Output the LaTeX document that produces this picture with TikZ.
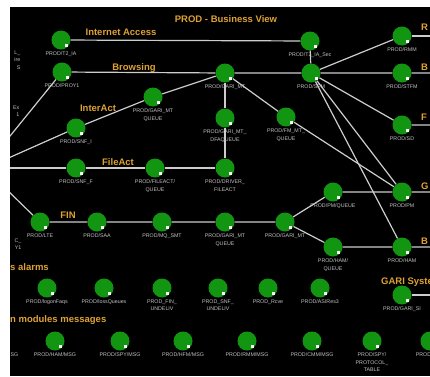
\documentclass[tikz,border=0pt]{standalone}
\usepackage{fontspec}
\setmainfont{Liberation Sans}
\definecolor{ndgreen}{RGB}{18,150,18}
\definecolor{grporange}{RGB}{222,162,52}
\definecolor{lblgray}{RGB}{195,195,195}
\definecolor{linegray}{RGB}{205,205,205}
\tikzset{
  nd/.style={circle, fill=ndgreen, minimum size=19pt, inner sep=0pt},
  lbl/.style={font=\fontsize{5.3}{7.5}\selectfont, text=lblgray, align=center, inner sep=0.5pt},
  edgelbl/.style={font=\fontsize{5.3}{7.5}\selectfont, text=lblgray, align=right, inner sep=0.5pt},
  grp/.style={font=\bfseries\fontsize{9.5}{11}\selectfont, text=grporange, inner sep=0pt},
  conn/.style={draw=linegray, line width=1.2pt}
}
\newcommand{\pnd}[4]{%
  \node[nd] (#1) at (#2,#3) {};
  \fill[white] ([xshift=4pt,yshift=-4pt]#1.center) rectangle +(3,3);
  \node[lbl,anchor=north] at ([yshift=-11pt]#1.center) {#4};
}
\begin{document}
\begin{tikzpicture}[x=1pt,y=-1pt]
\useasboundingbox (0,0) rectangle (430,376);
\fill[white] (0,0) rectangle (430,376);
\fill[black] (10,7) rectangle (430,376);
\begin{scope}
\clip (10,7) rectangle (430,376);
% title and group labels
\node[grp] (title) at (226,19) {PROD - Business View};
\node[grp] (gIA) at (121,32) {Internet Access};
\node[grp] (gBr) at (134,68) {Browsing};
\node[grp] (gIn) at (98,108) {InterAct};
\node[grp] (gFa) at (118,162) {FileAct};
\node[grp] (gFin) at (68,215) {FIN};
\node[grp,anchor=west] (gAl) at (10,267) {s alarms};
\node[grp,anchor=west] (gMm) at (10,320) {n modules messages};
\node[grp,anchor=west] (gGs) at (381,282) {GARI Syste};
\node[grp,anchor=west] (rR) at (421,27) {R};
\node[grp,anchor=west] (rB1) at (421,67) {B};
\node[grp,anchor=west] (rF) at (421,117) {F};
\node[grp,anchor=west] (rG) at (421,186) {G};
\node[grp,anchor=west] (rB2) at (421,241) {B};
% partial labels at the left edge
\node[edgelbl,anchor=north east] (lA) at (21,50) {L\_\\ire\\S};
\node[edgelbl,anchor=north east] (lB) at (20,105) {Ex\\1};
\node[edgelbl,anchor=north east] (lC) at (22,238) {C\_\\Y1};
\node[edgelbl,anchor=north east] (lD) at (19,352) {SG};
% nodes
\pnd{t2ia}{61}{40}{PROD/T2\_IA}
\pnd{t2sec}{310}{41}{PROD/T2\_IA\_Sec}
\pnd{rmm}{402}{36}{PROD/RMM}
\pnd{proy}{62}{72}{PROD/PROY1}
\pnd{garimt}{225}{73}{PROD/GARI\_MT}
\pnd{sfm}{311}{73}{PROD/SFM}
\pnd{stfm}{402}{73}{PROD/STFM}
\pnd{gmq}{153}{97}{PROD/GARI\_MT\\QUEUE}
\pnd{snfi}{76}{128}{PROD/SNF\_I}
\pnd{dfa}{225}{118}{PROD/GARI\_MT\_\\DFAQUEUE}
\pnd{fmq}{286}{117}{PROD/FM\_MT\_\\QUEUE}
\pnd{sd}{402}{125}{PROD/SD}
\pnd{snff}{76}{168}{PROD/SNF\_F}
\pnd{faq}{155}{168}{PROD/FILEACT/\\QUEUE}
\pnd{drv}{225}{168}{PROD/DRIVER\_\\FILEACT}
\pnd{lte}{40}{222}{PROD/LTE}
\pnd{saa}{97}{222}{PROD/SAA}
\pnd{mq}{162}{222}{PROD/MQ\_SMT}
\pnd{gmq2}{225}{222}{PROD/GARI\_MT\\QUEUE}
\pnd{gm2}{285}{222}{PROD/GARI\_MT}
\pnd{pmq}{333}{192}{PROD/PM/QUEUE}
\pnd{pm}{402}{192}{PROD/PM}
\pnd{hamq}{333}{247}{PROD/HAM/\\QUEUE}
\pnd{ham}{402}{247}{PROD/HAM}
% alarms
\pnd{a1}{47}{288}{PROD/logonFaqs}
\pnd{a2}{104}{288}{PROD/lossQueues}
\pnd{a3}{162}{288}{PROD\_FIN\_\\UNDELIV}
\pnd{a4}{218}{288}{PROD\_SNF\_\\UNDELIV}
\pnd{a5}{268}{288}{PROD\_Rcve}
\pnd{a6}{320}{288}{PROD/ASIRes3}
\pnd{gsi}{402}{295}{PROD/GARI\_SI}
% module messages
\pnd{m1}{55}{341}{PROD/HAM/MSG}
\pnd{m2}{120}{341}{PROD/SPY/MSG}
\pnd{m3}{183}{341}{PROD/HFM/MSG}
\pnd{m4}{247}{341}{PROD/RMM/MSG}
\pnd{m5}{312}{341}{PROD/CMM/MSG}
\pnd{m6}{372}{341}{PROD/SPY/\\PROTOCOL\_\\TABLE}
\pnd{m7}{430}{341}{PROD/SMS}
% free ends at the border
\coordinate (eRmm) at (436,36);
\coordinate (eStfm) at (436,73);
\coordinate (eSd) at (436,125);
\coordinate (ePm) at (436,192);
\coordinate (eHam) at (436,247);
\coordinate (eGsi) at (436,295);
\coordinate (wProy) at (6,141);
\coordinate (wSnfi) at (4,160);
\coordinate (wFile) at (4,168);
\coordinate (wLte) at (4,187);
% connectors
\draw[conn] (t2ia) -- (t2sec);
\draw[conn] (t2sec) -- (sfm);
\draw[conn] (sfm) -- (rmm);
\draw[conn] (rmm) -- (eRmm);
\draw[conn] (proy) -- (garimt) -- (sfm) -- (stfm) -- (eStfm);
\draw[conn] (proy) -- (wProy);
\draw[conn] (wSnfi) -- (snfi) -- (gmq) -- (garimt);
\draw[conn] (garimt) -- (dfa) -- (drv);
\draw[conn] (garimt) -- (fmq) -- (pm);
\draw[conn] (sfm) -- (sd) -- (eSd);
\draw[conn] (sfm) -- (pm);
\draw[conn] (sfm) -- (ham);
\draw[conn] (wFile) -- (snff) -- (faq) -- (drv);
\draw[conn] (wLte) -- (lte) -- (saa) -- (mq) -- (gmq2) -- (gm2);
\draw[conn] (gm2) -- (pmq) -- (pm) -- (ePm);
\draw[conn] (gm2) -- (hamq) -- (ham) -- (eHam);
\draw[conn] (gsi) -- (eGsi);
\end{scope}
\end{tikzpicture}
\end{document}
